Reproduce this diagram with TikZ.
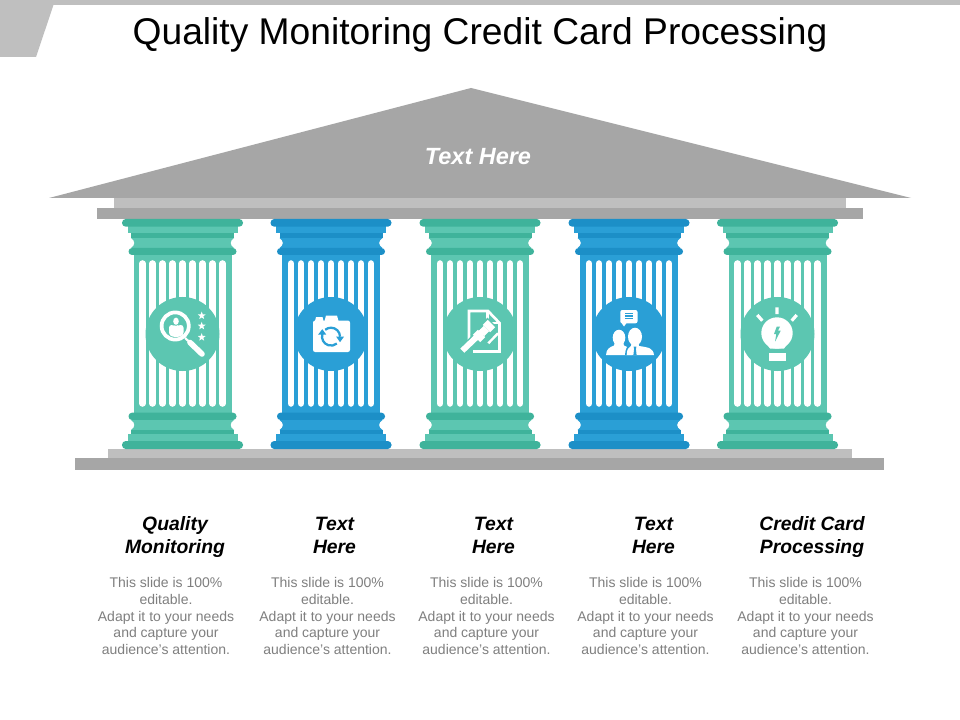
\documentclass[tikz,border=0pt]{standalone}
\usepackage{fontspec}
\setmainfont{Liberation Sans}
\definecolor{tealL}{HTML}{5CC6B1}
\definecolor{tealD}{HTML}{3FB39B}
\definecolor{blueL}{HTML}{2A9FD6}
\definecolor{blueD}{HTML}{1C8FC7}
\definecolor{grayD}{HTML}{A6A6A6}
\definecolor{grayL}{HTML}{BFBFBF}
\definecolor{bodygray}{HTML}{7F7F7F}
\tikzset{
  titletext/.style={font=\fontsize{27.9}{32}\selectfont,text=black,inner sep=0pt,anchor=base},
  rooftext/.style={font=\fontsize{17.6}{21}\selectfont\bfseries\itshape,text=white,inner sep=0pt},
  headtext/.style={font=\fontsize{14.5}{17.25}\selectfont\bfseries\itshape,text=black,align=center,inner sep=0pt},
  bodytext/.style={font=\fontsize{10.5}{12.6}\selectfont,text=bodygray,align=center,inner sep=0pt},
  flute/.style={white,line width=4.9pt,line cap=round},
}
% #1 centre x, #2 light, #3 dark
\newcommand{\pillar}[3]{%
 \begin{scope}[shift={(#1,0)}]
  \fill[#2] (-49,250) rectangle (49,416);
  \foreach \k in {-4,...,4}{\draw[flute] (\k*10,263.5) -- (\k*10,403.5);}
  % capital
  \fill[#2] (-55,226) rectangle (55,233);
  \fill[#2] (-51.5,238) .. controls (-47,241) and (-47,245) .. (-51.5,248) -- (51.5,248) .. controls (47,245) and (47,241) .. (51.5,238) -- cycle;
  \fill[#3] (-51.5,232.7) rectangle (51.5,238.2);
  \fill[#3,rounded corners=2.8pt] (-60.5,219) rectangle (60.5,226.7);
  \fill[#3,rounded corners=2.6pt] (-54,248) rectangle (54,255);
  % base
  \fill[#3,rounded corners=2.6pt] (-54,412.7) rectangle (54,420);
  \fill[#2] (-51.5,420) .. controls (-47,422.5) and (-47,427.5) .. (-51.5,430) -- (51.5,430) .. controls (47,427.5) and (47,422.5) .. (51.5,420) -- cycle;
  \fill[#3] (-51.5,430) rectangle (51.5,434);
  \fill[#2] (-55,434) rectangle (55,441.5);
  \fill[#3,rounded corners=2.8pt] (-60.5,441) rectangle (60.5,449);
  \fill[#2] (0,334) circle (37);
 \end{scope}}
\newcommand{\smallstar}[2]{\fill[white,shift={(#1,#2)}] (90:3.1pt) -- (126:1.3pt) -- (162:3.1pt) -- (198:1.3pt) -- (234:3.1pt) -- (270:1.3pt) -- (306:3.1pt) -- (342:1.3pt) -- (18:3.1pt) -- (54:1.3pt) -- cycle;}
\begin{document}
\begin{tikzpicture}[x=0.75pt,y=-0.75pt]
\useasboundingbox (0,0) rectangle (960,720);
\fill[white] (0,0) rectangle (960,720);
% slide corner
\fill[grayL] (0,0) -- (960,0) -- (960,5) -- (53.5,5) -- (36,57) -- (0,57) -- cycle;
\node[titletext] (title) at (480,45) {Quality Monitoring Credit Card Processing};
% temple
\fill[grayD] (471,88) -- (911,198) -- (49,198) -- cycle;
\fill[grayL] (114,198) rectangle (846,208);
\fill[grayD] (97,208) rectangle (863,219);
\fill[grayL] (108,449) rectangle (852,458);
\fill[grayD] (75,458) rectangle (884,470);
\node[rooftext] (roof) at (478,157) {Text Here};
% pillars
\pillar{182.5}{tealL}{tealD}
\pillar{331}{blueL}{blueD}
\pillar{480}{tealL}{tealD}
\pillar{629}{blueL}{blueD}
\pillar{777.5}{tealL}{tealD}
% icon 1: magnifier
\begin{scope}[shift={(182,334)}]
 \draw[white,line width=2.8pt] (-6.8,-8) circle (13.6);
 \fill[white] (-6,-12.8) ellipse (2.8 and 3.6);
 \fill[white,rounded corners=2pt] (-13,-9) -- (-8,-9) -- (-6,-7) -- (-4,-9) -- (1.5,-9) -- (1.5,1) -- (-3,3) -- (-9,3) -- (-13,1) -- cycle;
 \draw[white,line width=1.6pt] (3,4) -- (8,8.5);
 \draw[white,line width=4.2pt,line cap=round] (8,8.5) -- (20,20);
 \smallstar{19.7}{-18.3}
 \smallstar{19.7}{-8}
 \smallstar{19.7}{3.3}
\end{scope}
% icon 2: case with sync arrows
\begin{scope}[shift={(331,334)}]
 \fill[white,rounded corners=1.6pt] (-18,-13.5) rectangle (19,18);
 \fill[white] (-16,-13) -- (-15,-17) -- (-8.5,-17) -- (-7.5,-13) -- cycle;
 \fill[white] (-6.5,-13) -- (-5,-18.5) -- (6,-18.5) -- (7.5,-13) -- cycle;
 \draw[blueL,line width=1.7pt] (9,2.7) arc (0:-130:9);
 \draw[blueL,line width=1.7pt] (-8.6,0) arc (197:50:9);
 \fill[blueL] (5.2,2.7) -- (13,2.7) -- (9,8.2) -- cycle;
 \fill[blueL] (-12.8,0.5) -- (-4.8,0.5) -- (-8.7,-4.8) -- cycle;
\end{scope}
% icon 3: document and gavel
\begin{scope}[shift={(480,334)}]
 \draw[white,line width=2pt] (-11,6) -- (-11,-23) -- (8,-23) -- (19.5,-11) -- (19.5,17.5) -- (-7,17.5);
 \draw[white,line width=1.6pt] (7.5,-23) -- (7.5,-11) -- (19.5,-11);
 % halo
 \draw[tealL,line width=6.5pt] (-17.7,16.7) -- (3,-3);
 \fill[tealL,shift={(4,-3)},rotate=-45] (-7,-12) rectangle (7,12);
 % gavel
 \draw[white,line width=4.4pt] (-17.7,16.7) -- (3,-3);
 \begin{scope}[shift={(4,-3)},rotate=-45]
  \fill[white] (-5.2,-10.5) rectangle (5.2,-3.5);
  \fill[white] (-3.8,-3.5) rectangle (3.8,3.5);
  \fill[white] (-5.2,3.5) rectangle (5.2,10.5);
 \end{scope}
 \draw[white,line width=1.8pt] (8.3,9.3) -- (18,-.7);
\end{scope}
% icon 4: people
\begin{scope}[shift={(629,334)}]
 \fill[white,rounded corners=1.5pt] (-8.7,-24) rectangle (8.5,-10.7);
 \fill[white] (-7.5,-11) -- (-5,-7.5) -- (-2.5,-11) -- cycle;
 \draw[blueL,line width=1pt] (-4,-20.7) -- (3.5,-20.7) (-4,-18) -- (3.5,-18) (-4,-15.3) -- (3.5,-15.3);
 \fill[white] (-23,21) .. controls (-22.5,15) and (-20,13.5) .. (-15,11.5) -- (-14,8) -- (-6,8) -- (-5,11.5) .. controls (-1,13.5) and (2,14) .. (3,21) -- cycle;
 \fill[white] (-10,3.7) ellipse (6.3 and 8);
 \fill[blueL] (6,2.7) ellipse (8.3 and 10.2);
 \fill[blueL] (-4,21) .. controls (-3.5,14) and (-2,12) .. (2,10.5) -- (12,10.5) -- (12,21) -- cycle;
 \fill[white] (-2.3,21) .. controls (-2,15.5) and (-1,13.5) .. (2,12) -- (2.5,9) -- (9.5,9) -- (10,12) .. controls (20,13.5) and (24,14) .. (25,21) -- cycle;
 \fill[white] (6,2.7) ellipse (7 and 9);
 \fill[blueL] (4.6,12.5) -- (7.4,12.5) -- (6.9,15) -- (7.6,21) -- (4.4,21) -- (5.1,15) -- cycle;
\end{scope}
% icon 5: bulb
\begin{scope}[shift={(777,334)}]
 \fill[white] (0,-1) circle (15.7);
 \fill[white] (-12,8) -- (12,8) -- (7,14.5) -- (-7,14.5) -- cycle;
 \fill[white] (-8.5,19.3) rectangle (8.5,27);
 \draw[white,line width=2.4pt] (0,-26.7) -- (0,-20) (-19.7,-19) -- (-14.7,-13.3) (19.7,-19) -- (14.7,-13.3);
 \fill[tealL] (-.3,-7.3) -- (-3,0) -- (-.7,0) -- (-2,7.7) -- (3.7,-3.3) -- (1,-3.3) -- (3,-7.3) -- cycle;
\end{scope}
% labels
\node[headtext] (h1) at (175,537) {Quality\\Monitoring};
\node[headtext] (h2) at (334.5,535) {Text\\Here};
\node[headtext] (h3) at (493.5,535) {Text\\Here};
\node[headtext] (h4) at (653.5,535) {Text\\Here};
\node[headtext] (h5) at (812,537) {Credit Card\\Processing};
\foreach \n/\x in {b1/166,b2/327.5,b3/486.5,b4/645.5,b5/805.5}{
 \node[bodytext] (\n) at (\x,616) {This slide is 100\%\\editable.\\Adapt it to your needs\\and capture your\\audience's attention.};
}
\end{tikzpicture}
\end{document}
